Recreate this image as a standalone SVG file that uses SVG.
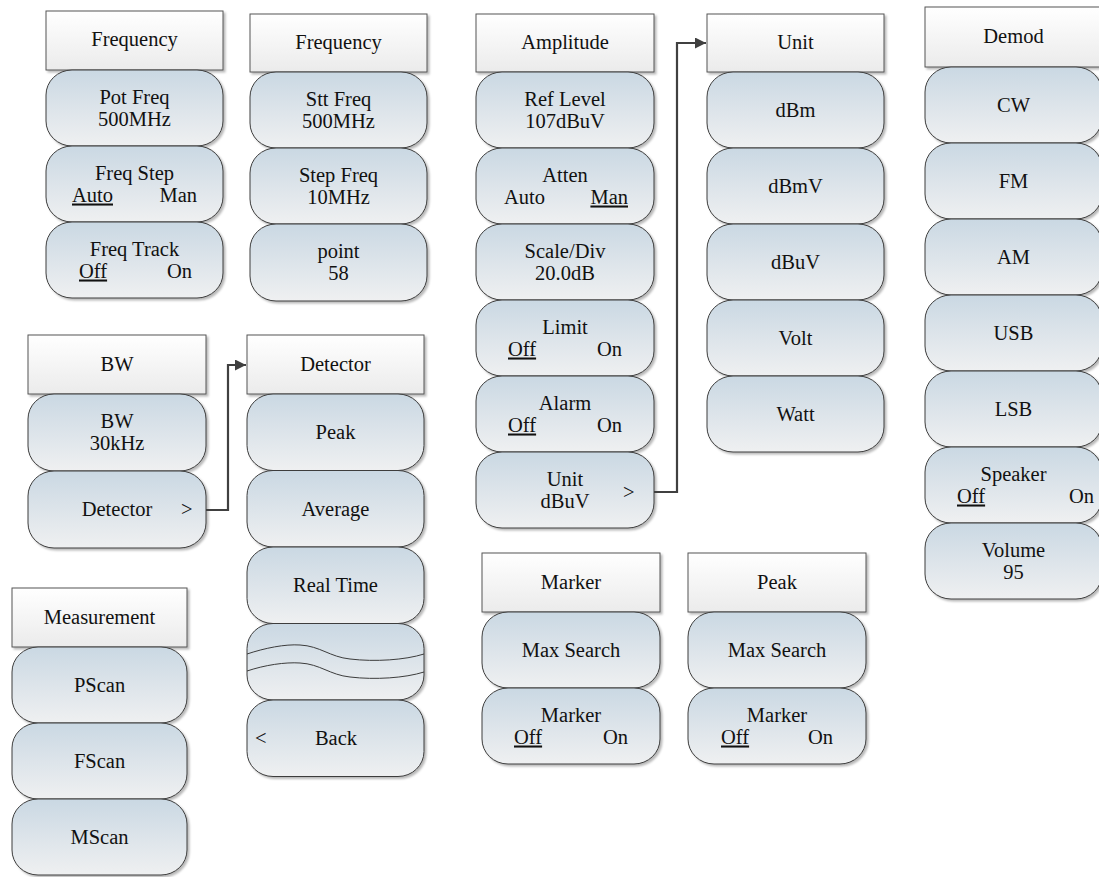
<svg xmlns="http://www.w3.org/2000/svg" width="1099" height="877" viewBox="0 0 1099 877">
<defs>
<linearGradient id="gb" x1="0" y1="0" x2="0" y2="1"><stop offset="0" stop-color="#cad8e3"/><stop offset="1" stop-color="#eff0f1"/></linearGradient>
<linearGradient id="gh" x1="0" y1="0" x2="0" y2="1"><stop offset="0" stop-color="#ffffff"/><stop offset="1" stop-color="#ebebeb"/></linearGradient>
<filter id="sh" x="-5%" y="-5%" width="115%" height="120%"><feDropShadow dx="2" dy="2" stdDeviation="1" flood-color="#000" flood-opacity="0.28"/></filter>
<marker id="ah" viewBox="0 0 10 10" refX="10" refY="5" markerWidth="5" markerHeight="5" orient="auto" markerUnits="strokeWidth"><path d="M0,0 L10,5 L0,10 z" fill="#404040"/></marker>
</defs>
<style>
.h{fill:url(#gh);stroke:#555;stroke-width:1;filter:url(#sh)}
.b{fill:url(#gb);stroke:#3c3c3c;stroke-width:1;filter:url(#sh)}
text{font-family:"Liberation Serif","Times New Roman",serif;font-size:20.5px;fill:#111}
.c{text-anchor:middle}
.e{text-anchor:end}
.u{text-decoration:underline}
.w{fill:none;stroke:#3c3c3c;stroke-width:1}
.cn{fill:none;stroke:#404040;stroke-width:2.2}
</style>
<rect width="1099" height="877" fill="#fff"/>

<g id="freq1">
<rect class="h" x="46" y="11" width="177" height="59"/>
<text class="c" x="134.5" y="46">Frequency</text>
<rect class="b" x="46" y="70" width="177" height="76" rx="26" ry="25"/>
<text class="c" x="134.5" y="103.5">Pot Freq</text><text class="c" x="134.5" y="125.5">500MHz</text>
<rect class="b" x="46" y="146" width="177" height="76" rx="26" ry="25"/>
<text class="c" x="134.5" y="179.5">Freq Step</text><text x="72" y="201.5" class="u">Auto</text><text class="e" x="197" y="201.5">Man</text>
<rect class="b" x="46" y="222" width="177" height="76" rx="26" ry="25"/>
<text class="c" x="134.5" y="255.5">Freq Track</text><text x="79" y="277.5" class="u">Off</text><text class="e" x="192" y="277.5">On</text>
</g>

<g id="freq2">
<rect class="h" x="250" y="14" width="177" height="58"/>
<text class="c" x="338.5" y="49">Frequency</text>
<rect class="b" x="250" y="72" width="177" height="76" rx="26" ry="25"/>
<text class="c" x="338.5" y="105.5">Stt Freq</text><text class="c" x="338.5" y="127.5">500MHz</text>
<rect class="b" x="250" y="148" width="177" height="76" rx="26" ry="25"/>
<text class="c" x="338.5" y="181.5">Step Freq</text><text class="c" x="338.5" y="203.5">10MHz</text>
<rect class="b" x="250" y="224" width="177" height="77" rx="26" ry="25"/>
<text class="c" x="338.5" y="258">point</text><text class="c" x="338.5" y="280">58</text>
</g>

<g id="amplitude">
<rect class="h" x="476" y="14" width="178" height="58"/>
<text class="c" x="565" y="49">Amplitude</text>
<rect class="b" x="476" y="72" width="178" height="76" rx="26" ry="25"/>
<text class="c" x="565" y="105.5">Ref Level</text><text class="c" x="565" y="127.5">107dBuV</text>
<rect class="b" x="476" y="148" width="178" height="76" rx="26" ry="25"/>
<text class="c" x="565" y="181.5">Atten</text><text x="504" y="203.5">Auto</text><text class="e u" x="628" y="203.5">Man</text>
<rect class="b" x="476" y="224" width="178" height="76" rx="26" ry="25"/>
<text class="c" x="565" y="257.5">Scale/Div</text><text class="c" x="565" y="279.5">20.0dB</text>
<rect class="b" x="476" y="300" width="178" height="76" rx="26" ry="25"/>
<text class="c" x="565" y="333.5">Limit</text><text x="508" y="355.5" class="u">Off</text><text class="e" x="622" y="355.5">On</text>
<rect class="b" x="476" y="376" width="178" height="76" rx="26" ry="25"/>
<text class="c" x="565" y="409.5">Alarm</text><text x="508" y="431.5" class="u">Off</text><text class="e" x="622" y="431.5">On</text>
<rect class="b" x="476" y="452" width="178" height="76" rx="26" ry="25"/>
<text class="c" x="565" y="485.5">Unit</text><text class="c" x="565" y="507.5">dBuV</text><text x="623" y="499">&gt;</text>
</g>

<g id="unit">
<rect class="h" x="707" y="14" width="177" height="58"/>
<text class="c" x="795.5" y="49">Unit</text>
<rect class="b" x="707" y="72" width="177" height="76" rx="26" ry="25"/>
<text class="c" x="795.5" y="116.5">dBm</text>
<rect class="b" x="707" y="148" width="177" height="76" rx="26" ry="25"/>
<text class="c" x="795.5" y="192.5">dBmV</text>
<rect class="b" x="707" y="224" width="177" height="76" rx="26" ry="25"/>
<text class="c" x="795.5" y="268.5">dBuV</text>
<rect class="b" x="707" y="300" width="177" height="76" rx="26" ry="25"/>
<text class="c" x="795.5" y="344.5">Volt</text>
<rect class="b" x="707" y="376" width="177" height="76" rx="26" ry="25"/>
<text class="c" x="795.5" y="420.5">Watt</text>
</g>

<g id="demod">
<rect class="h" x="925" y="7" width="177" height="60"/>
<text class="c" x="1013.5" y="43">Demod</text>
<rect class="b" x="925" y="67" width="177" height="76" rx="26" ry="25"/>
<text class="c" x="1013.5" y="111.5">CW</text>
<rect class="b" x="925" y="143" width="177" height="76" rx="26" ry="25"/>
<text class="c" x="1013.5" y="187.5">FM</text>
<rect class="b" x="925" y="219" width="177" height="76" rx="26" ry="25"/>
<text class="c" x="1013.5" y="263.5">AM</text>
<rect class="b" x="925" y="295" width="177" height="76" rx="26" ry="25"/>
<text class="c" x="1013.5" y="339.5">USB</text>
<rect class="b" x="925" y="371" width="177" height="76" rx="26" ry="25"/>
<text class="c" x="1013.5" y="415.5">LSB</text>
<rect class="b" x="925" y="447" width="177" height="76" rx="26" ry="25"/>
<text class="c" x="1013.5" y="480.5">Speaker</text><text x="957" y="502.5" class="u">Off</text><text class="e" x="1094" y="502.5">On</text>
<rect class="b" x="925" y="523" width="177" height="76" rx="26" ry="25"/>
<text class="c" x="1013.5" y="556.5">Volume</text><text class="c" x="1013.5" y="578.5">95</text>
</g>

<g id="bw">
<rect class="h" x="28" y="335" width="178" height="59"/>
<text class="c" x="117" y="370.5">BW</text>
<rect class="b" x="28" y="394" width="178" height="77" rx="26" ry="25"/>
<text class="c" x="117" y="427.5">BW</text><text class="c" x="117" y="449.5">30kHz</text>
<rect class="b" x="28" y="471" width="178" height="77" rx="26" ry="25"/>
<text class="c" x="117" y="516">Detector</text><text x="181" y="516">&gt;</text>
</g>

<g id="detector">
<rect class="h" x="247" y="335" width="177" height="59"/>
<text class="c" x="335.5" y="370.5">Detector</text>
<rect class="b" x="247" y="394" width="177" height="76.5" rx="26" ry="25"/>
<text class="c" x="335.5" y="439">Peak</text>
<rect class="b" x="247" y="470.5" width="177" height="76.5" rx="26" ry="25"/>
<text class="c" x="335.5" y="515.5">Average</text>
<rect class="b" x="247" y="547" width="177" height="76.5" rx="26" ry="25"/>
<text class="c" x="335.5" y="592">Real Time</text>
<rect class="b" x="247" y="623.5" width="177" height="76.5" rx="26" ry="25"/>
<path class="w" d="M247,654 C265,648 285,644 300,645 C320,646 330,657 350,659 C375,662 405,660 424,654"/>
<path class="w" d="M247,671 C265,665 285,662 300,663 C320,664 330,675 350,677 C375,680 405,678 424,672"/>
<rect class="b" x="247" y="700" width="177" height="76.5" rx="26" ry="25"/>
<text class="c" x="336" y="745">Back</text><text x="255" y="745">&lt;</text>
</g>

<g id="measurement">
<rect class="h" x="12" y="588" width="175" height="59"/>
<text class="c" x="99.5" y="623.5">Measurement</text>
<rect class="b" x="12" y="647" width="175" height="76" rx="26" ry="25"/>
<text class="c" x="99.5" y="691.5">PScan</text>
<rect class="b" x="12" y="723" width="175" height="76" rx="26" ry="25"/>
<text class="c" x="99.5" y="767.5">FScan</text>
<rect class="b" x="12" y="799" width="175" height="76" rx="26" ry="25"/>
<text class="c" x="99.5" y="843.5">MScan</text>
</g>

<g id="marker">
<rect class="h" x="482" y="553" width="178" height="59"/>
<text class="c" x="571" y="588.5">Marker</text>
<rect class="b" x="482" y="612" width="178" height="76" rx="26" ry="25"/>
<text class="c" x="571" y="656.5">Max Search</text>
<rect class="b" x="482" y="688" width="178" height="76" rx="26" ry="25"/>
<text class="c" x="571" y="721.5">Marker</text><text x="514" y="743.5" class="u">Off</text><text class="e" x="628" y="743.5">On</text>
</g>

<g id="peak">
<rect class="h" x="688" y="553" width="178" height="59"/>
<text class="c" x="777" y="588.5">Peak</text>
<rect class="b" x="688" y="612" width="178" height="76" rx="26" ry="25"/>
<text class="c" x="777" y="656.5">Max Search</text>
<rect class="b" x="688" y="688" width="178" height="76" rx="26" ry="25"/>
<text class="c" x="777" y="721.5">Marker</text><text x="721" y="743.5" class="u">Off</text><text class="e" x="833" y="743.5">On</text>
</g>

<g id="connectors">
<path class="cn" d="M206,510 H228 V365 H246" marker-end="url(#ah)"/>
<path class="cn" d="M654,492 H677 V43 H706" marker-end="url(#ah)"/>
</g>
</svg>
